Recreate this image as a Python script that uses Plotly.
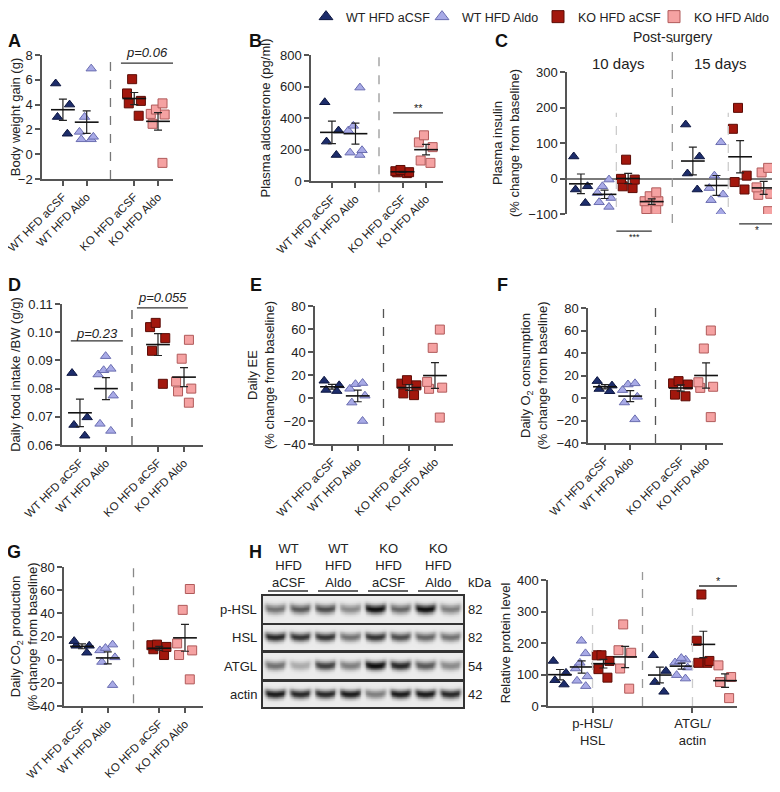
import numpy as np
import plotly.graph_objects as go

OFF = 8                       # page body margin offset
W, H = 780 - OFF, 792 - OFF   # figure size inside the window

# ---------------- data ----------------
GROUPS = ["WT HFD aCSF", "WT HFD Aldo", "KO HFD aCSF", "KO HFD Aldo"]

bw_gain = [[5.7, 4.0, 3.0, 1.65], [6.9, 3.0, 1.8, 1.4, 1.2, 1.2],
           [6.05, 4.9, 4.3, 4.1, 3.1], [4.1, 3.6, 3.25, 3.2, 2.45, -0.7]]
aldosterone = [[500, 320, 250, 165], [593, 350, 320, 195, 180, 165],
               [70, 62, 55, 50, 56], [290, 245, 215, 130, 115]]
insulin_10d = [[62, -22, -31, -69], [-3, -22, -41, -55, -67, -80],
               [53, -3, -1, -27, -22], [-39, -50, -64, -64, -88, -86]]
insulin_15d = [[152, 62, 14, -31], [102, 8, -27, -45, -61, -95],
               [199, 140, 8, -10, -31], [30, 17, -25, -43, -46, -92]]
food_intake = [[0.0855, 0.0698, 0.0671, 0.0633],
               [0.0915, 0.0865, 0.087, 0.085, 0.0775, 0.0675, 0.065],
               [0.1033, 0.1018, 0.0979, 0.0934, 0.0817],
               [0.0973, 0.0906, 0.0825, 0.080, 0.079, 0.075]]
daily_ee = [[15, 11, 7, 6], [13, 12, 8, 2, -4, -20],
            [15.5, 12.5, 11, 4, 2.5], [59.5, 43.6, 14, 9, 8, -17]]
daily_o2 = [[15, 11, 8, 6], [13, 12, 7, 1, -4, -19],
            [15, 13, 12, 3, 1.5], [60, 44, 14, 10, 9, -17]]
daily_co2 = [[16, 12, 12, 6], [13, 10, 8, 2, -2, -22],
             [13, 12.5, 11, 9, 4], [61, 43, 14, 8, 4, -17]]
phsl_hsl = [[143, 105, 82, 68], [207, 167, 137, 119, 94, 80, 63],
            [161, 161, 143, 117, 90], [259, 177, 169, 119, 55]]
atgl_actin = [[161, 111, 76, 45], [152, 147, 142, 138, 122, 98, 87],
              [354, 207, 143, 137, 137], [129, 92, 76, 25]]

blot_rows = ["p-HSL", "HSL", "ATGL", "actin"]
blot_kda = ["82", "82", "54", "42"]
blot_headers = ["WT<br>HFD<br>aCSF", "WT<br>HFD<br>Aldo", "KO<br>HFD<br>aCSF", "KO<br>HFD<br>Aldo"]
blot_intensity = [
    [0.55, 0.65, 0.70, 0.45, 0.95, 0.60, 0.95, 0.50],
    [0.85, 0.80, 0.80, 0.55, 0.80, 0.70, 0.60, 0.55],
    [0.55, 0.30, 0.75, 0.50, 0.95, 0.85, 0.65, 0.45],
    [0.90, 0.85, 0.85, 0.90, 0.50, 0.90, 0.90, 0.85],
]
h_ticks = ["p-HSL/<br>HSL", "ATGL/<br>actin"]

# ---------------- style ----------------
FILL = ["#1d2d6b", "#a8aae6", "#a2170d", "#f5a2a2"]
EDGE = ["#0d1640", "#6a6db0", "#5c0c06", "#b05a5a"]
SYMBOL = ["triangle-up", "triangle-up", "square", "square"]
FONT = "Liberation Sans, Arial, sans-serif"
AX = "#555555"

STD_POS = [0, 1, 3, 4]
C_POS = [0, 1, 2, 3, 4.74, 5.74, 6.74, 7.74]
H_POS = [0, 1, 2, 3, 4.6, 5.6, 6.6, 7.6]

fig = go.Figure()
layout = dict(width=W, height=H, autosize=False, margin=dict(l=0, r=0, t=0, b=0, autoexpand=False),
              paper_bgcolor="white", plot_bgcolor="white",
              font=dict(family=FONT, size=13, color="#222"),
              shapes=[], annotations=[], showlegend=True)


def px(x):
    return (x - OFF) / W


def py(y):
    return 1 - (y - OFF) / H


def make_axes(i, box, xr, yr, ytitle=None, dtick=None, xticks=None, xtext=None,
              tickangle=-45, xline=True, yfmt=None, zeroline=False, blot=False, standoff=6):
    l, r, t, b = box
    xk = "xaxis" if i == 1 else f"xaxis{i}"
    yk = "yaxis" if i == 1 else f"yaxis{i}"
    xref = "x" if i == 1 else f"x{i}"
    yref = "y" if i == 1 else f"y{i}"
    xdom, ydom = [px(l), px(r)], [py(b), py(t)]
    if blot:
        common = dict(showline=True, mirror=True, linecolor="#333", linewidth=1.5,
                      showticklabels=False, ticks="", showgrid=False, zeroline=False,
                      fixedrange=True, automargin=False)
        layout[xk] = dict(domain=xdom, range=xr, anchor=yref, **common)
        layout[yk] = dict(domain=ydom, range=yr, anchor=xref, **common)
        return xref, yref
    layout[xk] = dict(domain=xdom, range=xr, anchor=yref, showgrid=False, zeroline=False,
                      showline=xline, linecolor=AX, linewidth=1.5, automargin=False,
                      ticks="outside" if xticks is not None else "", ticklen=5, tickcolor=AX,
                      tickwidth=1.5, tickvals=xticks, ticktext=xtext, tickangle=tickangle,
                      tickfont=dict(size=11.5 if tickangle else 13, color="#222"),
                      showticklabels=xticks is not None, ticklabeloverflow="allow")
    layout[yk] = dict(domain=ydom, range=yr, anchor=xref, showgrid=False, automargin=False,
                      zeroline=zeroline, zerolinecolor="#7a7a7a", zerolinewidth=2,
                      showline=True, linecolor=AX, linewidth=1.5, ticks="outside", ticklen=5,
                      tickcolor=AX, tickwidth=1.5, dtick=dtick, tickformat=yfmt,
                      tickfont=dict(size=13, color="#222"), ticklabeloverflow="allow",
                      title=dict(text=ytitle, font=dict(size=13, color="#222"), standoff=standoff))
    return xref, yref


def add_groups(xa, ya, data, positions, color_idx):
    for vals, pos, g in zip(data, positions, color_idx):
        fig.add_trace(go.Box(
            x=[pos] * len(vals), y=vals, xaxis=xa, yaxis=ya, orientation="v",
            boxpoints="all", jitter=0.9, pointpos=0, width=0.8,
            line=dict(width=0), fillcolor="rgba(0,0,0,0)",
            marker=dict(symbol=SYMBOL[g], size=9, color=FILL[g],
                        line=dict(color=EDGE[g], width=1)),
            showlegend=False, hoverinfo="y"))
    means = [float(np.mean(v)) for v in data]
    sems = [float(np.std(v, ddof=1) / np.sqrt(len(v))) for v in data]
    fig.add_trace(go.Scatter(
        x=list(positions), y=means, xaxis=xa, yaxis=ya, mode="markers",
        marker=dict(symbol="line-ew", size=17, line=dict(color="#111", width=1.6)),
        error_y=dict(type="data", array=sems, color="#222", thickness=1.2, width=4),
        showlegend=False, hoverinfo="y"))


def vdash(xa, ya, x, y0, y1, color="#777", domain=False):
    layout["shapes"].append(dict(type="line", xref=xa, yref=(ya + " domain") if domain else ya,
                                 x0=x, x1=x, y0=y0, y1=y1,
                                 line=dict(color=color, width=1.3, dash="dash")))


def sigline(xa, ya, x0, x1, y, label, ty, size=13, italic=False, domain=False, tdomain=False):
    yref = (ya + " domain") if domain else ya
    tref = (ya + " domain") if (domain or tdomain) else ya
    layout["shapes"].append(dict(type="line", xref=xa, yref=yref, x0=x0, x1=x1, y0=y, y1=y,
                                 line=dict(color="#333", width=1.3)))
    layout["annotations"].append(dict(xref=xa, yref=tref, x=(x0 + x1) / 2, y=ty,
                                      xanchor="center", yanchor="middle",
                                      text=f"<i>{label}</i>" if italic else label,
                                      showarrow=False, font=dict(size=size, color="#222")))


def letter(t, x, y):
    layout["annotations"].append(dict(xref="paper", yref="paper", x=px(x), y=py(y), text=f"<b>{t}</b>",
                                      xanchor="center", yanchor="middle",
                                      showarrow=False, font=dict(size=18, color="#111")))


def ptext(t, x, y, size=13, xanchor="center"):
    layout["annotations"].append(dict(xref="paper", yref="paper", x=px(x), y=py(y), text=t,
                                      showarrow=False, xanchor=xanchor, yanchor="middle",
                                      font=dict(size=size, color="#222")))


# ---------------- A ----------------
xa, ya = make_axes(1, (42, 173, 55, 179), [-0.88, 4.63], [-2, 8], "Body weight gain (g)", 2,
                   STD_POS, GROUPS)
add_groups(xa, ya, bw_gain, STD_POS, [0, 1, 2, 3])
vdash(xa, ya, 2, 0, 1.01, domain=True)
sigline(xa, ya, 2.44, 4.63, 7.35, "p=0.06", 1.02, italic=True, tdomain=True)
letter("A", 14, 41)

# ---------------- B ----------------
xa, ya = make_axes(2, (311, 443, 55, 181), [-0.89, 4.72], [0, 800], "Plasma aldosterone (pg/ml)", 200,
                   STD_POS, GROUPS)
add_groups(xa, ya, aldosterone, STD_POS, [0, 1, 2, 3])
vdash(xa, ya, 2, -0.09, 1.02, color="#999", domain=True)
sigline(xa, ya, 2.6, 4.77, 432, "**", 466, size=11)
letter("B", 256, 41)

# ---------------- C ----------------
xa, ya = make_axes(3, (567, 780, 72, 214), [-0.59, 8.43], [-100, 300],
                   "Plasma insulin<br>(% change from baseline)", 100, None, None, xline=False,
                   zeroline=True)
add_groups(xa, ya, insulin_10d + insulin_15d, C_POS, [0, 1, 2, 3, 0, 1, 2, 3])
vdash(xa, ya, 3.87, -0.063, 1.225, color="#999", domain=True)
vdash(xa, ya, 1.5, -80, 185, color="#ccc")
vdash(xa, ya, 6.24, -80, 185, color="#ccc")
sigline(xa, ya, 1.5, 3.0, -0.12, "***", -0.165, size=9, domain=True)
sigline(xa, ya, 6.7, 8.2, -0.07, "*", -0.115, size=10, domain=True)
for txt, xv, yv, fs in [("Post-surgery", 3.87, 37, 14), ("10 days", 1.6, 63, 15), ("15 days", 5.9, 63, 15)]:
    layout["annotations"].append(dict(xref=xa, yref="paper", x=xv, y=py(yv), text=txt,
                                      xanchor="center", yanchor="middle",
                                      showarrow=False, font=dict(size=fs, color="#222")))
letter("C", 501, 41)

# ---------------- D ----------------
xa, ya = make_axes(4, (62, 203, 304, 445), [-0.69, 4.73], [0.06, 0.11],
                   "Daily food intake /BW (g/g)", 0.01, STD_POS, GROUPS, yfmt=".2f")
add_groups(xa, ya, food_intake, STD_POS, [0, 1, 2, 3])
vdash(xa, ya, 2, 0, 1.0, color="#555", domain=True)
sigline(xa, ya, -0.35, 1.65, 0.0969, "p=0.23", 0.0997, italic=True)
sigline(xa, ya, 2.19, 4.15, 0.1086, "p=0.055", 1.043, italic=True, tdomain=True)
letter("D", 14, 285)

# ---------------- E ----------------
xa, ya = make_axes(5, (315, 453, 306, 444), [-0.66, 4.7], [-40, 80],
                   "Daily EE<br>(% change from baseline)", 20, STD_POS, GROUPS)
add_groups(xa, ya, daily_ee, STD_POS, [0, 1, 2, 3])
vdash(xa, ya, 2, 0, 1.0, color="#555", domain=True)
letter("E", 256, 285)

# ---------------- F ----------------
xa, ya = make_axes(6, (588, 723, 308, 443), [-0.67, 4.67], [-40, 80],
                   "Daily O<sub>2</sub> consumption<br>(% change from baseline)", 20, STD_POS, GROUPS)
add_groups(xa, ya, daily_o2, STD_POS, [0, 1, 2, 3])
vdash(xa, ya, 2, 0, 1.0, color="#555", domain=True)
letter("F", 502, 285)

# ---------------- G ----------------
xa, ya = make_axes(7, (64, 203, 567, 706), [-0.7, 4.7], [-40, 80],
                   "Daily CO<sub>2</sub> production<br>(% change from baseline)", 20, STD_POS, GROUPS)
add_groups(xa, ya, daily_co2, STD_POS, [0, 1, 2, 3])
vdash(xa, ya, 2, 0.02, 1.02, color="#888", domain=True)
letter("G", 14, 552)

# ---------------- H (plot) ----------------
xa, ya = make_axes(8, (548, 737, 580, 706), [-0.55, 8.15], [0, 400], "Relative protein level", 100,
                   [1.5, 6.1], h_ticks, tickangle=0, standoff=3)
add_groups(xa, ya, phsl_hsl + atgl_actin, H_POS, [0, 1, 2, 3, 0, 1, 2, 3])
vdash(xa, ya, 3.8, 0, 1.063, color="#999", domain=True)
vdash(xa, ya, 1.5, 0, 311, color="#ccc")
vdash(xa, ya, 6.1, 0, 311, color="#ccc")
sigline(xa, ya, 6.4, 8.16, 381, "*", 398, size=11)
letter("H", 256, 552)

# ---------------- H (blot) ----------------
lane_x = np.linspace(0, 8, 240)
lane_y = np.linspace(0, 1, 40)
X, Y = np.meshgrid(lane_x, lane_y)
row_boxes = [(263, 463, 596, 623), (263, 463, 625, 650), (263, 463, 653, 679), (263, 463, 682, 707)]
for r, (intens, box) in enumerate(zip(blot_intensity, row_boxes)):
    xa, ya = make_axes(9 + r, box, [0, 8], [0, 1], blot=True)
    z = np.full(X.shape, 0.04)
    for i, inten in enumerate(intens):
        c = i + 0.5
        hx = 1 / (1 + np.exp((np.abs(X - c) - 0.4) / 0.04))
        yc = 0.5 + 0.07 * ((X - c) / 0.4) ** 2
        vy = np.exp(-0.5 * ((Y - yc) / 0.12) ** 2)
        z += inten * hx * vy
    fig.add_trace(go.Heatmap(x=lane_x, y=lane_y, z=z, xaxis=xa, yaxis=ya, zmin=0, zmax=1,
                             colorscale=[[0, "#f4f4f4"], [0.5, "#8a8a8a"], [1, "#0e0e0e"]],
                             showscale=False, hoverinfo="skip"))
    yc_px = (box[2] + box[3]) / 2
    ptext(blot_rows[r], 259, yc_px, size=13, xanchor="right")
    ptext(blot_kda[r], 466, yc_px, size=13, xanchor="left")
ptext("kDa", 466, 582, size=13, xanchor="left")
for g, hdr in enumerate(blot_headers):
    layout["annotations"].append(dict(xref="x9", yref="paper", x=2 * g + 1, y=py(565), text=hdr,
                                      xanchor="center", yanchor="middle",
                                      showarrow=False, font=dict(size=13, color="#222")))
    layout["shapes"].append(dict(type="line", xref="x9", yref="paper", x0=2 * g + 0.2, x1=2 * g + 1.8,
                                 y0=py(591), y1=py(591), line=dict(color="#333", width=1.5)))

# ---------------- legend ----------------
for g in range(4):
    fig.add_trace(go.Scatter(x=[None], y=[None], mode="markers", name=GROUPS[g],
                             marker=dict(symbol=SYMBOL[g], size=12, color=FILL[g],
                                         line=dict(color=EDGE[g], width=1))))
layout["legend"] = dict(orientation="h", x=px(306), y=py(2), xanchor="left", yanchor="top",
                        font=dict(size=12.5, color="#222"), itemwidth=30, bgcolor="rgba(0,0,0,0)",
                        tracegroupgap=0, entrywidth=71, entrywidthmode="pixels",
                        borderwidth=0)

fig.update_layout(**layout)
fig.write_html("out.html")
